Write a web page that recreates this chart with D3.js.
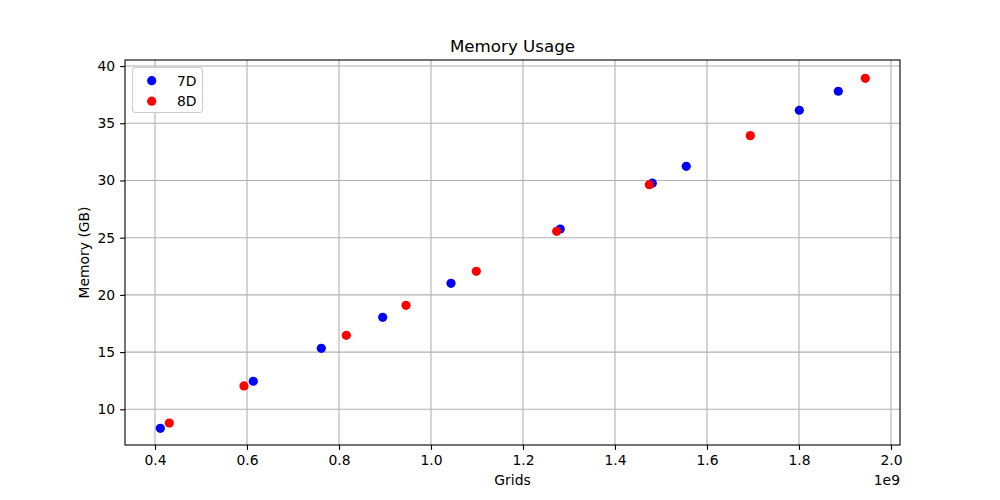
<!DOCTYPE html>
<html>
<head>
<meta charset="utf-8">
<script src="https://cdn.jsdelivr.net/npm/d3@7"></script>
<style>
  body { margin: 0; background: #fff; }
  svg { font-family: "DejaVu Sans", sans-serif; }
</style>
</head>
<body>
<script>
// values (grids in units of 1e9)
var grids7D = [0.4116, 0.6137, 0.7616, 0.8950, 1.0435, 1.2810, 1.4811, 1.5550, 1.8007, 1.8855];
var mem7D   = [8.34, 12.45, 15.33, 18.04, 21.01, 25.76, 29.76, 31.24, 36.14, 37.80];
var grids8D = [0.4311, 0.5935, 0.8159, 0.9457, 1.0985, 1.2732, 1.4746, 1.6942, 1.9441];
var mem8D   = [8.80, 12.04, 16.47, 19.09, 22.06, 25.56, 29.63, 33.92, 38.93];
var xTicks = [0.4, 0.6, 0.8, 1.0, 1.2, 1.4, 1.6, 1.8, 2.0];
var yTicks = [10, 15, 20, 25, 30, 35, 40];
var seriesNames = ["7D", "8D"];
var seriesColors = ["#0000ff", "#ff0000"];

var width = 1000, height = 500;
var plotLeft = 125, plotRight = 900, plotTop = 60, plotBottom = 445;

var svg = d3.select("body").append("svg")
    .attr("width", width)
    .attr("height", height);

var x = d3.scaleLinear().domain([0.3348, 2.0196]).range([plotLeft, plotRight]);
var y = d3.scaleLinear().domain([6.88, 40.53]).range([plotBottom, plotTop]);

// grid
var grid = svg.append("g");
grid.selectAll(".gx").data(xTicks).enter().append("line")
    .attr("x1", function(d) { return x(d); }).attr("x2", function(d) { return x(d); })
    .attr("y1", plotTop).attr("y2", plotBottom)
    .attr("stroke", "#b0b0b0").attr("stroke-width", 1.1);
grid.selectAll(".gy").data(yTicks).enter().append("line")
    .attr("y1", function(d) { return y(d); }).attr("y2", function(d) { return y(d); })
    .attr("x1", plotLeft).attr("x2", plotRight)
    .attr("stroke", "#b0b0b0").attr("stroke-width", 1.1);

// points
var data = [
    grids7D.map(function(g, i) { return {x: g, y: mem7D[i]}; }),
    grids8D.map(function(g, i) { return {x: g, y: mem8D[i]}; })
];
data.forEach(function(pts, k) {
    svg.append("g").selectAll("circle").data(pts).enter().append("circle")
        .attr("cx", function(d) { return x(d.x); })
        .attr("cy", function(d) { return y(d.y); })
        .attr("r", 4.6)
        .attr("fill", seriesColors[k]);
});

// axes
var xAxis = svg.append("g")
    .attr("transform", "translate(0," + plotBottom + ")")
    .call(d3.axisBottom(x).tickValues(xTicks).tickFormat(d3.format(".1f")).tickSize(4.9).tickPadding(4.9));
var yAxis = svg.append("g")
    .attr("transform", "translate(" + plotLeft + ",0)")
    .call(d3.axisLeft(y).tickValues(yTicks).tickSize(4.9).tickPadding(4.9));
[xAxis, yAxis].forEach(function(a) {
    a.select(".domain").remove();
    a.selectAll("text").attr("font-size", "13.9px").attr("fill", "#000").attr("font-family", "DejaVu Sans");
    a.selectAll("line").attr("stroke", "#000").attr("stroke-width", 1.1);
});

// frame
svg.append("rect")
    .attr("x", plotLeft).attr("y", plotTop)
    .attr("width", plotRight - plotLeft).attr("height", plotBottom - plotTop)
    .attr("fill", "none").attr("stroke", "#000").attr("stroke-width", 1.1);

// labels
svg.append("text").attr("x", (plotLeft + plotRight) / 2).attr("y", 52)
    .attr("text-anchor", "middle").attr("font-size", "16.7px").text("Memory Usage");
svg.append("text").attr("x", (plotLeft + plotRight) / 2).attr("y", 485)
    .attr("text-anchor", "middle").attr("font-size", "13.9px").text("Grids");
svg.append("text").attr("transform", "translate(89," + ((plotTop + plotBottom) / 2) + ") rotate(-90)")
    .attr("text-anchor", "middle").attr("font-size", "13.9px").text("Memory (GB)");
svg.append("text").attr("x", plotRight).attr("y", 485)
    .attr("text-anchor", "end").attr("font-size", "13.9px").text("1e9");

// legend
var legend = svg.append("g");
legend.append("rect")
    .attr("x", 132.5).attr("y", 67.5).attr("width", 70).attr("height", 45)
    .attr("rx", 2.5)
    .attr("fill", "#fff").attr("fill-opacity", 0.8)
    .attr("stroke", "#cccccc").attr("stroke-width", 1);
seriesNames.forEach(function(name, i) {
    legend.append("circle")
        .attr("cx", 151.7).attr("cy", 80.7 + i * 20.5)
        .attr("r", 4.6).attr("fill", seriesColors[i]);
    legend.append("text")
        .attr("x", 177).attr("y", 85.5 + i * 20.5)
        .attr("font-size", "13.9px").text(name);
});
</script>
</body>
</html>
